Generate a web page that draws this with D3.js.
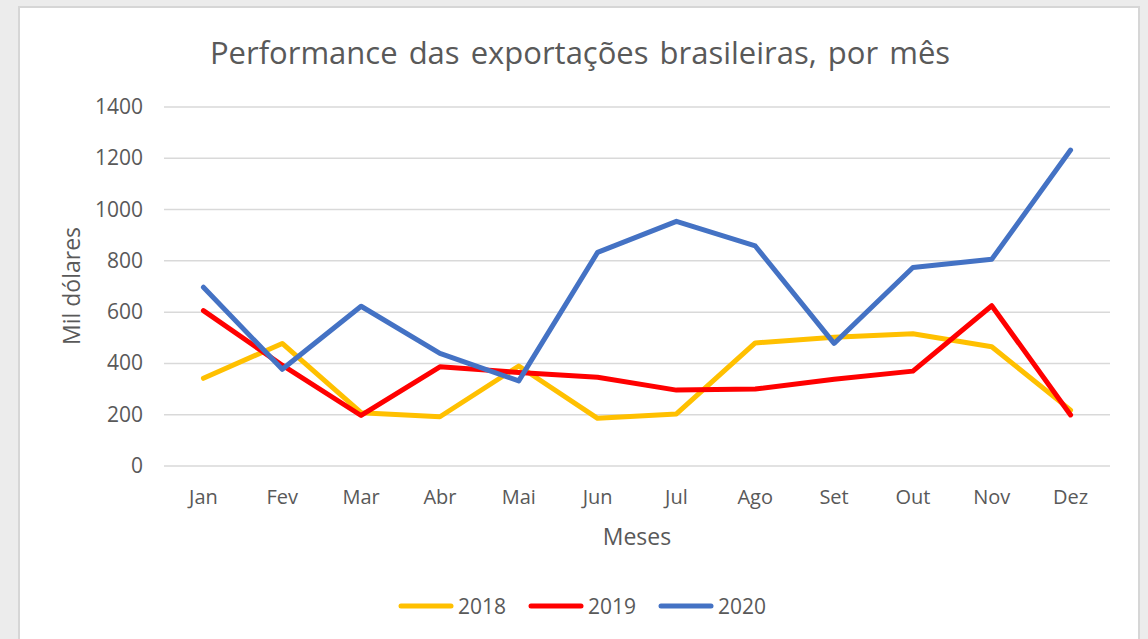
<!DOCTYPE html>
<html>
<head>
<meta charset="utf-8">
<script src="https://cdn.jsdelivr.net/npm/d3@7"></script>
<style>
body{margin:0;background:#e9e9e9;}
svg{display:block;font-family:"Open Sans",sans-serif;}
</style>
</head>
<body>
<div class="chart"></div>
<script>
var months = ["Jan","Fev","Mar","Abr","Mai","Jun","Jul","Ago","Set","Out","Nov","Dez"]
var yTicks = [0,200,400,600,800,1000,1200,1400]
var v2018 = [342,478,208,192,390,186,203,480,502,516,465,218]
var v2019 = [606,393,197,387,365,346,296,300,338,370,625,199]
var v2020 = [697,377,623,439,332,833,954,858,478,774,806,1232]
var seriesNames = ["2018","2019","2020"]
var seriesColors = ["#FFC000","#FF0000","#4472C4"]

var width = 1148, height = 639
var svg = d3.select(".chart").append("svg").attr("width",width).attr("height",height)

//background + panel
svg.append("rect").attr("width",width).attr("height",height).attr("fill","#ececec")
svg.append("rect").attr("x",19).attr("y",7).attr("width",1120).attr("height",640)
	.attr("fill","#fff").attr("stroke","#d6d6d6").attr("stroke-width",2)

//scales
var xPos = d3.scaleBand().domain(months).range([164,1110])
var yPos = d3.scaleLinear().domain([0,1400]).range([466,107])

//grid
svg.append("g").selectAll("line").data(yTicks).enter().append("line")
	.attr("x1",164).attr("x2",1110)
	.attr("y1",function(d){return yPos(d)}).attr("y2",function(d){return yPos(d)})
	.attr("stroke","#d9d9d9").attr("stroke-width",1.5)

//y labels
svg.append("g").selectAll("text").data(yTicks).enter().append("text")
	.attr("x",143).attr("y",function(d){return yPos(d)+7})
	.attr("text-anchor","end").attr("fill","#595959").style("font-size","21px")
	.text(function(d){return d})

//x labels
svg.append("g").selectAll("text").data(months).enter().append("text")
	.attr("x",function(d){return xPos(d)+xPos.bandwidth()/2}).attr("y",504)
	.attr("text-anchor","middle").attr("fill","#595959").style("font-size","20px")
	.text(function(d){return d})

//lines
var line = d3.line()
	.x(function(d,i){return xPos(months[i])+xPos.bandwidth()/2})
	.y(function(d){return yPos(d)})
;[v2018,v2019,v2020].forEach(function(vals,i){
	svg.append("path").datum(vals).attr("d",line)
		.attr("fill","none").attr("stroke",seriesColors[i]).attr("stroke-width",5)
		.attr("stroke-linejoin","round").attr("stroke-linecap","round")
})

//titles
svg.append("text").attr("x",580).attr("y",64).attr("text-anchor","middle")
	.attr("fill","#595959").style("font-size","31px").style("word-spacing","3px")
	.text("Performance das exportações brasileiras, por mês")
svg.append("text").attr("x",637).attr("y",545).attr("text-anchor","middle")
	.attr("fill","#595959").style("font-size","23px").text("Meses")
svg.append("text").attr("transform","translate(80,286) rotate(-90)").attr("text-anchor","middle")
	.attr("fill","#595959").style("font-size","23px").text("Mil dólares")

//legend
var legendX = [399,529,659]
var legend = svg.append("g")
seriesNames.forEach(function(s,i){
	legend.append("line").attr("x1",legendX[i]+2).attr("x2",legendX[i]+52).attr("y1",606).attr("y2",606)
		.attr("stroke",seriesColors[i]).attr("stroke-width",5).attr("stroke-linecap","round")
	legend.append("text").attr("x",legendX[i]+59).attr("y",614).attr("fill","#595959")
		.style("font-size","21px").text(s)
})
</script>
</body>
</html>
